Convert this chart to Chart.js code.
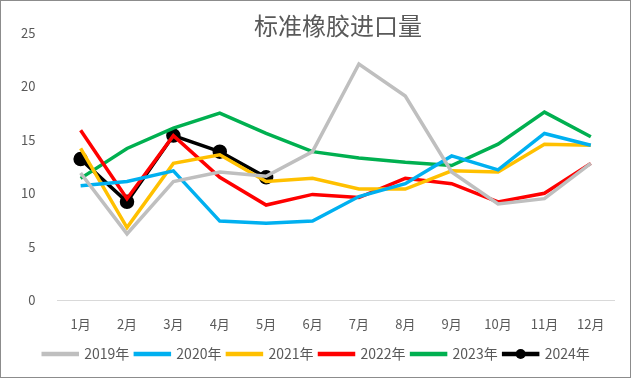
<!DOCTYPE html>
<html>
<head>
<meta charset="utf-8">
<script src="https://cdn.jsdelivr.net/npm/chart.js@4"></script>
<style>
  html, body { margin: 0; padding: 0; background: #fff; }
  #wrap { width: 629px; height: 376px; border: 1px solid #8c8c8c; }
</style>
</head>
<body>
<div id="wrap"><canvas id="rubber" width="629" height="376"></canvas></div>
<script>
const months = ['1月', '2月', '3月', '4月', '5月', '6月', '7月', '8月', '9月', '10月', '11月', '12月']
const y2019 = [11.9, 6.2, 11.1, 12.0, 11.6, 13.9, 22.1, 19.1, 12.0, 9.0, 9.5, 12.8]
const y2020 = [10.7, 11.1, 12.1, 7.4, 7.2, 7.4, 9.7, 10.9, 13.5, 12.2, 15.6, 14.5]
const y2021 = [14.2, 6.8, 12.8, 13.6, 11.1, 11.4, 10.4, 10.4, 12.1, 12.0, 14.6, 14.5]
const y2022 = [15.9, 9.5, 15.4, 11.5, 8.9, 9.9, 9.6, 11.4, 10.9, 9.2, 10.0, 12.8]
const y2023 = [11.4, 14.2, 16.1, 17.5, 15.6, 13.9, 13.3, 12.9, 12.6, 14.6, 17.6, 15.3]
const y2024 = [13.2, 9.2, 15.4, 13.9, 11.5]
const yTicks = [0, 5, 10, 15, 20, 25]

const font = "'Noto Sans CJK SC', 'Noto Sans', sans-serif"

function series(label, data, color, withDots) {
  return {
    label: label,
    data: data,
    borderColor: color,
    backgroundColor: color,
    borderWidth: 3.5,
    pointRadius: withDots ? 5.5 : 0,
    pointHoverRadius: withDots ? 5.5 : 0,
    tension: 0,
  }
}

// title drawn by hand so it can sit over the top of the plot area like the Excel original,
// plus the dot on the 2024 legend line
const extras = {
  id: 'extras',
  afterUpdate(chart) {
    // Excel's legend sits a bit right of centre
    const lg = chart.legend
    lg.left += 6
    lg.right += 6
    // adjustHitBoxes adds to top each call, so keep the tops as they were
    const tops = lg.legendHitBoxes.map(h => h.top)
    lg.adjustHitBoxes()
    lg.legendHitBoxes.forEach((h, i) => { h.top = tops[i] })
  },
  afterDraw(chart) {
    const ctx = chart.ctx
    ctx.save()
    ctx.font = '24px ' + font
    ctx.fillStyle = '#595959'
    ctx.textAlign = 'center'
    ctx.textBaseline = 'middle'
    ctx.fillText('标准橡胶进口量', 337, 25)
    const box = chart.legend.legendHitBoxes[5]
    if (box) {
      const bw = chart.legend.options.labels.boxWidth
      ctx.fillStyle = '#000'
      ctx.beginPath()
      ctx.arc(box.left + bw / 2, box.top + box.height / 2, 5, 0, Math.PI * 2)
      ctx.fill()
    }
    ctx.restore()
  },
}

const cfg = {
  type: 'line',
  data: {
    labels: months,
    datasets: [
      series('2019年', y2019, '#bfbfbf'),
      series('2020年', y2020, '#00b0f0'),
      series('2021年', y2021, '#ffc000'),
      series('2022年', y2022, '#ff0000'),
      series('2023年', y2023, '#00b050'),
      series('2024年', y2024, '#000000', true),
    ],
  },
  options: {
    responsive: false,
    animation: false,
    layout: { padding: { top: 32, left: 6, right: 16, bottom: 6 } },
    plugins: {
      title: { display: false },
      tooltip: { enabled: false },
      legend: {
        position: 'bottom',
        // empty title only used as a spacer above the legend row
        title: { display: true, text: '', font: { size: 1 }, padding: 0 },
        labels: {
          boxWidth: 34,
          boxHeight: 1,
          padding: 6,
          color: '#595959',
          font: { family: font, size: 14 },
        },
      },
    },
    scales: {
      x: {
        offset: true,
        grid: { display: false },
        border: { color: '#d9d9d9', width: 1 },
        ticks: { color: '#595959', font: { family: font, size: 13 }, padding: 8, maxRotation: 0 },
      },
      y: {
        min: 0,
        max: 25,
        afterBuildTicks(axis) { axis.ticks = yTicks.map(v => ({ value: v })) },
        grid: { display: false },
        border: { display: false },
        ticks: { color: '#595959', font: { family: font, size: 13 }, padding: 14 },
      },
    },
  },
  plugins: [extras],
}

const rubberChart = document.getElementById('rubber')
window.myLine = new Chart(rubberChart, cfg)
</script>
</body>
</html>
